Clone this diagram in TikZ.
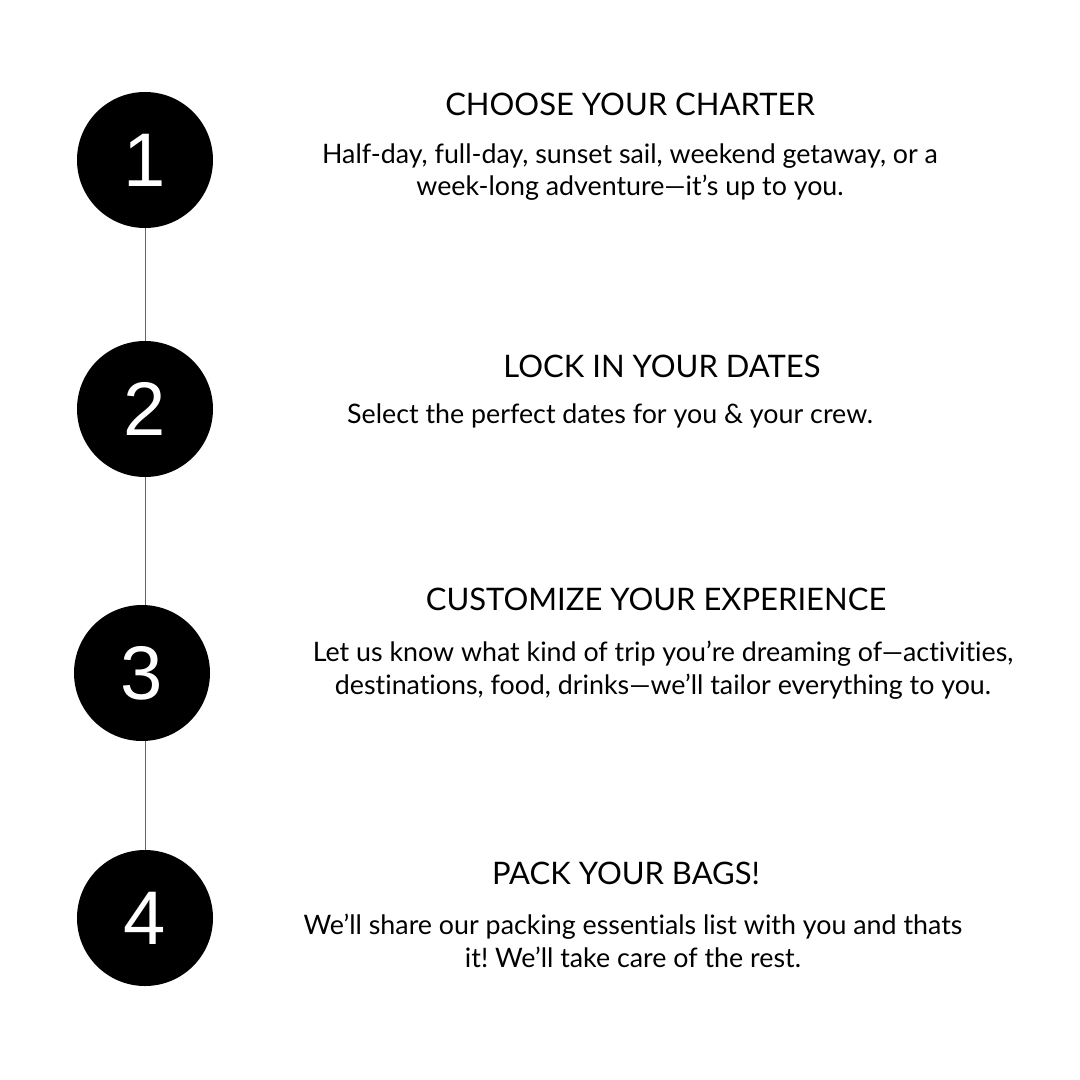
\documentclass[tikz,border=0pt]{standalone}
\usepackage{fontspec}
\setmainfont{Lato}[Ligatures=NoCommon]
\newfontfamily\digitfont{Liberation Sans}
\usepackage{tikz}
\usetikzlibrary{positioning}
\frenchspacing
\tikzset{
    stepdot/.style={circle, fill=black, minimum size=136pt, inner sep=0pt, text=white, font=\digitfont\fontsize{76}{76}\selectfont},
    title/.style={font=\fontsize{31}{36}\selectfont, inner sep=0pt, anchor=center},
    body/.style={font=\fontsize{26.8}{32.5}\selectfont, align=center, inner sep=0pt, anchor=center},
    link/.style={draw=black!60, line width=1pt}
}
\begin{document}
\begin{tikzpicture}[x=1pt, y=-1pt]
\useasboundingbox[fill=white] (0,0) rectangle (1080,1080);

% ── Steps ──
\node[stepdot] (one) at (145,160) {1};
\node[stepdot] (two) at (145,409) {2};
\node[stepdot] (three) at (142,673) {3};
\node[stepdot] (four) at (145,918) {4};

% ── Links ──
\draw[link] (one.south) -- (one.south |- two.north);
\draw[link] (two.south) -- (two.south |- three.north);
\draw[link] (four.north |- three.south) -- (four.north);

% ── Texts ──
\node[title] (choose) at (630,104) {CHOOSE YOUR CHARTER};
\node[body] (choosetxt) at (630,172) {Half-day, full-day, sunset sail, weekend getaway, or a\\week-long adventure—it’s up to you.};

\node[title] (lock) at (662,366) {LOCK IN YOUR DATES};
\node[body] (locktxt) at (610,416) {Select the perfect dates for you \& your crew.};

\node[title] (custom) at (656,599) {CUSTOMIZE YOUR EXPERIENCE};
\node[body] (customtxt) at (663,670) {Let us know what kind of trip you’re dreaming of—activities,\\destinations, food, drinks—we’ll tailor everything to you.};

\node[title] (pack) at (626,873) {PACK YOUR BAGS!};
\node[body] (packtxt) at (633,941) {We’ll share our packing essentials list with you and thats\\it! We’ll take care of the rest.};

\end{tikzpicture}
\end{document}
